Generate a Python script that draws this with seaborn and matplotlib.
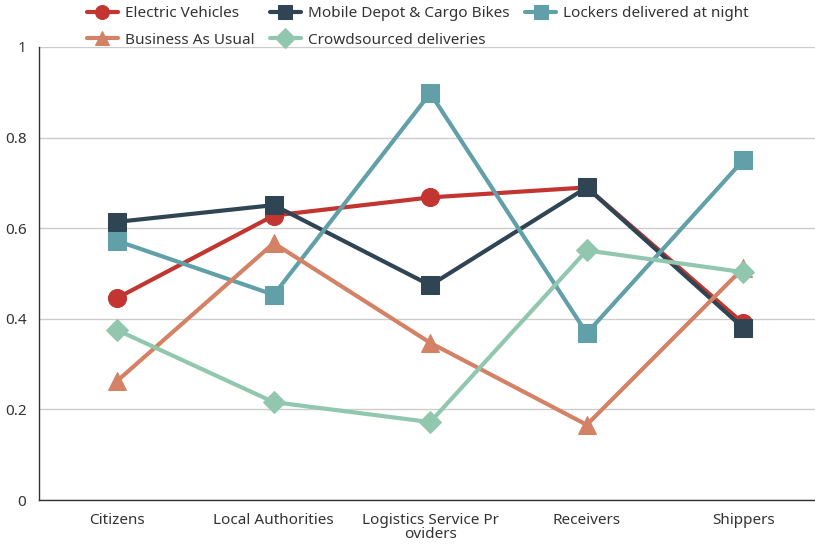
import pandas as pd
import numpy as np
import matplotlib
matplotlib.use("Agg")
import matplotlib.pyplot as plt
from matplotlib.ticker import FixedLocator, FuncFormatter
import seaborn as sns

# Data
categories = ["Citizens", "Local Authorities", "Logistics Service Pr\noviders", "Receivers", "Shippers"]
series_names = ["Electric Vehicles", "Mobile Depot & Cargo Bikes", "Lockers delivered at night",
                "Business As Usual", "Crowdsourced deliveries"]
electric = [0.446, 0.628, 0.668, 0.690, 0.390]
mobile_depot = [0.614, 0.651, 0.474, 0.690, 0.380]
lockers = [0.572, 0.453, 0.898, 0.368, 0.750]
business = [0.263, 0.567, 0.347, 0.166, 0.512]
crowd = [0.375, 0.216, 0.172, 0.551, 0.503]

colors = ["#c23531", "#2f4554", "#61a0a8", "#d48265", "#91c7ae"]
markers = ["o", "s", "s", "^", "D"]
sizes = [13, 13, 13, 13, 11]

# long format for seaborn
rows = []
for name, vals in zip(series_names, [electric, mobile_depot, lockers, business, crowd]):
    for i, v in enumerate(vals):
        rows.append({"pos": i, "value": v, "series": name})
df = pd.DataFrame(rows)

sns.set_style("white")
plt.rcParams['font.family'] = ['Noto Sans', 'DejaVu Sans']

fig = plt.figure(figsize=(8.15, 5.44), dpi=100)
ax = fig.add_axes([39/815, 44/544, 776/815, 453/544])

for name, col, mk, ms in zip(series_names, colors, markers, sizes):
    sub = df[df["series"] == name]
    sns.lineplot(data=sub, x="pos", y="value", color=col, marker=mk, markersize=ms,
                 markeredgecolor=col, linewidth=3, sort=False, ax=ax, label=name)

# Axes styling
ax.set_xlim(-0.5, -0.5 + 776/156.5)
ax.set_ylim(0, 1)
ax.set_xlabel("")
ax.set_ylabel("")
ax.set_yticks([0, 0.2, 0.4, 0.6, 0.8, 1.0])
ax.yaxis.set_major_formatter(FuncFormatter(lambda v, p: "0" if v == 0 else ("1" if v == 1 else f"{v:.1f}")))
ax.set_xticks(range(len(categories)))
ax.set_xticklabels(categories, linespacing=0.95)
ax.xaxis.set_minor_locator(FixedLocator(np.arange(-0.5, 5.0, 1.0)))
ax.tick_params(axis="x", which="major", length=0, pad=9, labelsize=11, labelcolor="#333333")
ax.tick_params(axis="x", which="minor", length=5, color="#333333", width=1)
ax.tick_params(axis="y", length=5, color="#333333", width=1, pad=4, labelsize=11, labelcolor="#333333")
ax.grid(axis="y", color="#cccccc", linewidth=1)
ax.grid(axis="x", visible=False)
ax.set_axisbelow(True)
for s in ["top", "right"]:
    ax.spines[s].set_visible(False)
for s in ["left", "bottom"]:
    ax.spines[s].set_color("#333333")
    ax.spines[s].set_linewidth(1)

# Legend: reorder so rows read across like the original
handles, labels = ax.get_legend_handles_labels()
ax.get_legend().remove()
order = [0, 3, 1, 4, 2]
leg = fig.legend([handles[i] for i in order], [labels[i] for i in order],
                 loc="upper center", bbox_to_anchor=(0.513, 1.014), ncol=3, frameon=False,
                 fontsize=11, handlelength=2.0, handletextpad=0.5, columnspacing=1.0,
                 labelspacing=0.75, labelcolor="#333333")
for h in leg.legend_handles:
    h.set_markersize(10)

fig.savefig("out.png", dpi=100)
